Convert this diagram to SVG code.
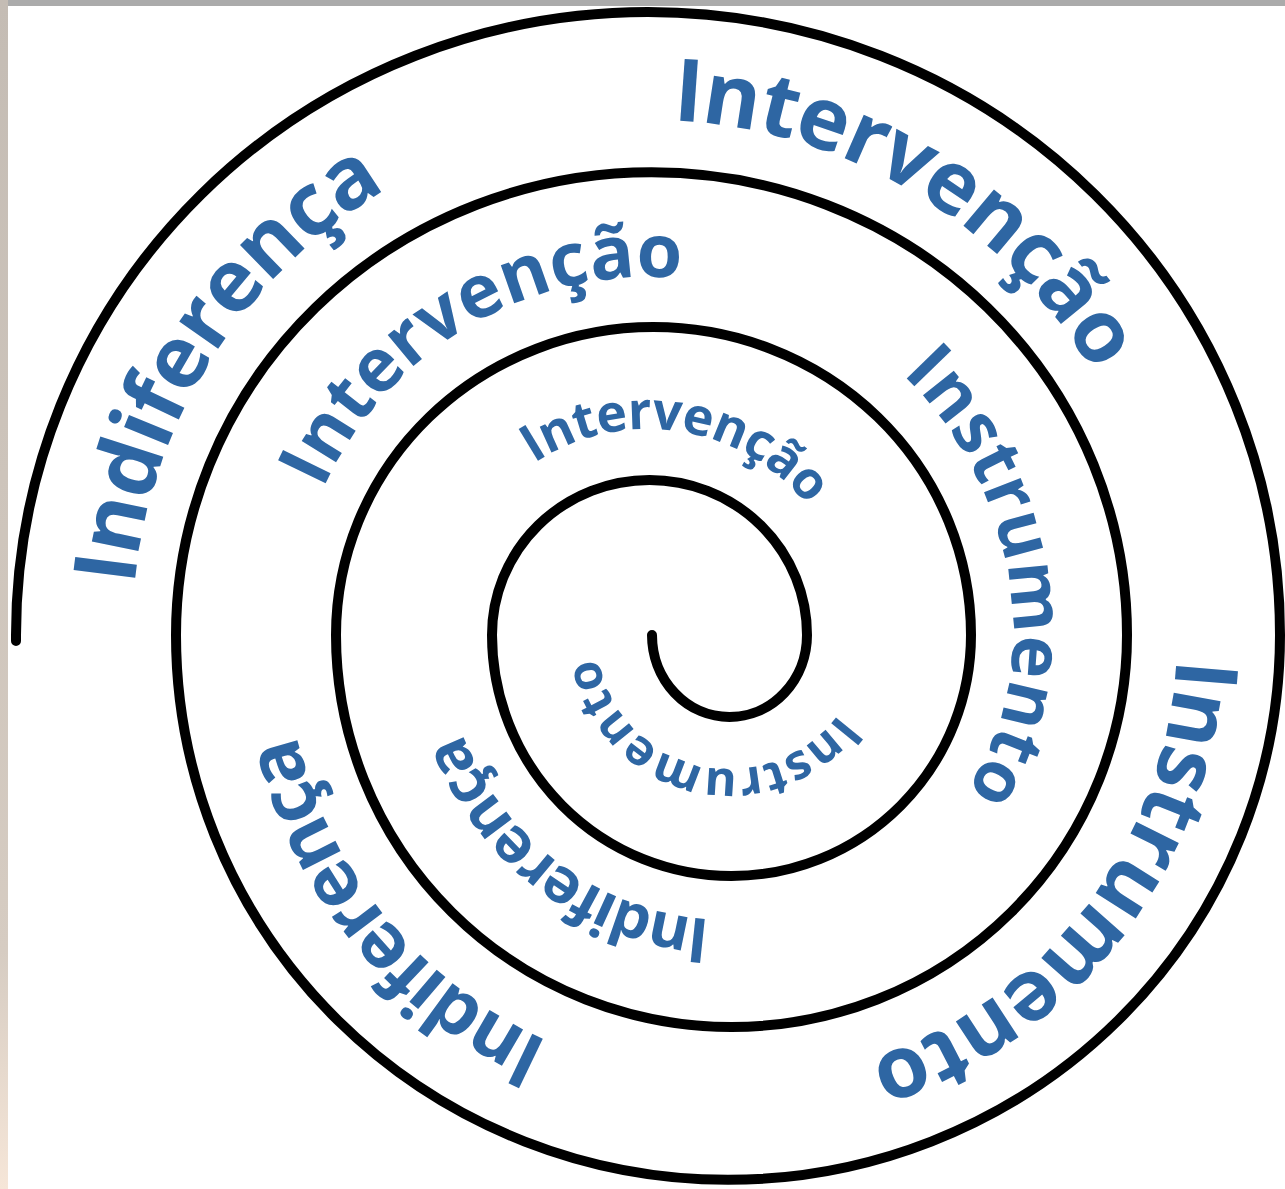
<svg xmlns="http://www.w3.org/2000/svg" xmlns:xlink="http://www.w3.org/1999/xlink" width="1285" height="1189" viewBox="0 0 1285 1189">
<defs>
<style>
.sp{fill:none;stroke:#000;stroke-width:10;stroke-linecap:round;stroke-linejoin:round}
.t{font-family:"Open Sans","Noto Sans","DejaVu Sans",sans-serif;font-weight:700;fill:#2E66A3}
</style>
<linearGradient id="lb" x1="0" y1="0" x2="0" y2="1">
<stop offset="0" stop-color="#c4bcb4"/>
<stop offset="0.8" stop-color="#d6ccc2"/>
<stop offset="1" stop-color="#f6e6d8"/>
</linearGradient>
<path id="p1" d="M 134.4 585.4 A 518 518 0 0 1 384.0 190.5"/>
<path id="p2" d="M 672.5 120.5 A 515 515 0 0 1 1093.7 373.6"/>
<path id="p3" d="M 1176.4 658.4 A 447 447 0 0 1 868.1 1060.1"/>
<path id="p4" d="M 549.0 1041.5 A 445 445 0 0 1 296.4 735.1"/>
<path id="p5" d="M 323.0 489.4 A 358 358 0 0 1 681.2 278.4"/>
<path id="p6" d="M 902.2 373.9 A 363 363 0 0 1 1013 635 A 283 283 0 0 1 965.7 791.6"/>
<path id="p7" d="M 710.1 919.3 A 285 285 0 0 1 462.2 732.5"/>
<path id="p8" d="M 534.2 463.4 A 205 205 0 0 1 808.0 506.0"/>
<path id="p9" d="M 838.4 713.8 A 134 134 0 0 1 597.8 657.1"/>
</defs>
<rect width="1285" height="1189" fill="#ffffff"/>
<rect x="0" y="0" width="1285" height="6" fill="#ababab"/>
<rect x="0" y="0" width="8" height="1189" fill="url(#lb)"/>
<g id="connectors">
<path id="spiral" class="sp" d="M 652 635 A 77.5 82 0 0 0 807 635 A 157.5 155 0 0 0 492 635 A 239.5 241 0 0 0 971 635 A 317.5 308 0 0 0 336 635 A 395.5 392 0 0 0 1127 635 A 475.5 463 0 0 0 176 635 A 552 545 0 0 0 1280 635 A 632 623 0 0 0 16 635 L 16 641"/>
</g>
<g id="label-indiferenca-1"><text class="t" font-size="87"><textPath href="#p1" xlink:href="#p1" textLength="488" lengthAdjust="spacing">Indiferença</textPath></text></g>
<g id="label-intervencao-1"><text class="t" font-size="87"><textPath href="#p2" xlink:href="#p2" textLength="512" lengthAdjust="spacing">Intervenção</textPath></text></g>
<g id="label-instrumento-1"><text class="t" font-size="87"><textPath href="#p3" xlink:href="#p3" textLength="538" lengthAdjust="spacing">Instrumento</textPath></text></g>
<g id="label-indiferenca-2"><text class="t" font-size="77"><textPath href="#p4" xlink:href="#p4" textLength="412" lengthAdjust="spacing">Indiferença</textPath></text></g>
<g id="label-intervencao-2"><text class="t" font-size="74"><textPath href="#p5" xlink:href="#p5" textLength="444" lengthAdjust="spacing">Intervenção</textPath></text></g>
<g id="label-instrumento-2"><text class="t" font-size="72"><textPath href="#p6" xlink:href="#p6" textLength="457" lengthAdjust="spacing">Instrumento</textPath></text></g>
<g id="label-indiferenca-3"><text class="t" font-size="62"><textPath href="#p7" xlink:href="#p7" textLength="328" lengthAdjust="spacing">Indiferença</textPath></text></g>
<g id="label-intervencao-3"><text class="t" font-size="52"><textPath href="#p8" xlink:href="#p8" textLength="304" lengthAdjust="spacing">Intervenção</textPath></text></g>
<g id="label-instrumento-3"><text class="t" font-size="49"><textPath href="#p9" xlink:href="#p9" textLength="314" lengthAdjust="spacing">Instrumento</textPath></text></g>
</svg>
